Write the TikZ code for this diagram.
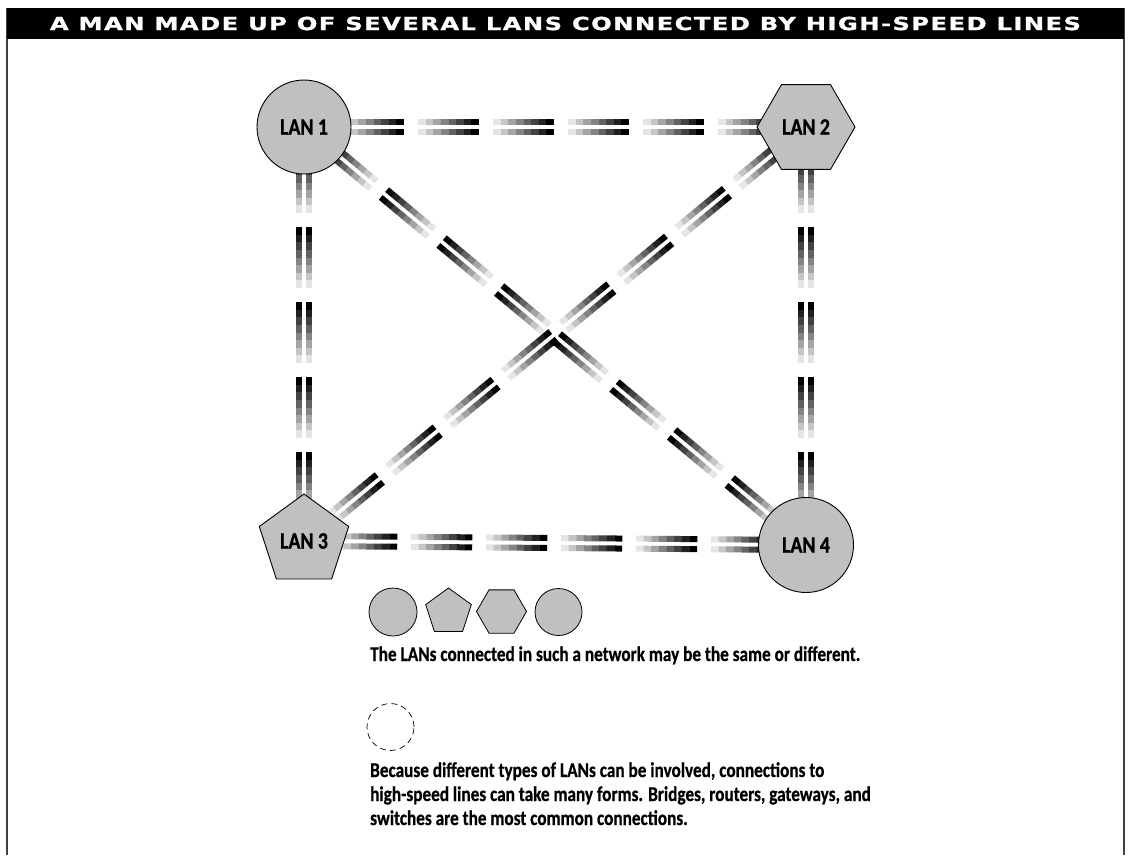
\documentclass[tikz,border=0pt]{standalone}
\usepackage{fontspec}
\setmainfont{Carlito}
\newfontfamily\titlefont[LetterSpace=6,FakeBold=1]{DejaVu Sans}
\newfontfamily\bodyfont[FakeStretch=0.82,FakeBold=0.6]{Carlito}
\newfontfamily\labelfont[FakeStretch=0.84,FakeBold=1]{Carlito}
\usetikzlibrary{shapes.geometric,decorations.markings}
\definecolor{langray}{RGB}{192,192,192}
\pgfdeclarelayer{bg}
\pgfsetlayers{bg,main}
\newcommand\landash{%
  \foreach \i in {0,...,7}{%
    \pgfmathsetmacro\shadev{10+90*\i/7}%
    \fill[black!\shadev] (\i*7.625pt,2pt) rectangle ++(7.9pt,6pt);
    \fill[black!\shadev] (\i*7.625pt,-2pt) rectangle ++(7.9pt,-6pt);
  }}
\tikzset{
  lanshape/.style={draw=black, line width=0.9pt, fill=langray, inner sep=0pt,
    font=\labelfont\fontsize{23.5}{25}\selectfont\bfseries},
  legendshape/.style={draw=black, line width=0.8pt, fill=langray, inner sep=0pt},
  bodytext/.style={inner sep=0pt, anchor=base west, font=\bodyfont\fontsize{21}{24}\selectfont\bfseries},
  titlebar/.style={fill=black, text=white, inner sep=0pt, minimum width=1117pt, minimum height=31pt},
  frameline/.style={draw=black!75, line width=1.5pt},
  lanlink/.style={decoration={markings, mark=between positions #1 and -60pt step 75pt with {\landash}}, decorate},
  conncircle/.style={draw=black, circle, dash pattern=on 6pt off 4pt, line width=0.7pt, inner sep=0pt},
}
\begin{document}
\begin{tikzpicture}[x=1pt,y=-1pt]
\useasboundingbox (0,0) rectangle (1130,855);
\begin{pgfonlayer}{bg}
\fill[white] (0,0) rectangle (1130,855);
\end{pgfonlayer}
% frame
\draw[frameline] (7,8) -- (7,855);
\draw[frameline] (1124,8) -- (1124,855);
\node[titlebar] (title) at (565.5,23.5) {\raisebox{-1pt}{\resizebox{1031pt}{13.4pt}{\titlefont\bfseries A MAN MADE UP OF SEVERAL LANS CONNECTED BY HIGH-SPEED LINES}}};
% LAN nodes
\node[lanshape, circle, minimum size=94pt] (lan1) at (304,127) {LAN 1};
\node[lanshape, regular polygon, regular polygon sides=6, minimum size=98pt] (lan2) at (806,127) {LAN 2};
\node[lanshape, regular polygon, regular polygon sides=5, minimum size=94pt] (lan3) at (304,541) {\raisebox{-3pt}{LAN 3}};
\node[lanshape, circle, minimum size=95pt] (lan4) at (806,545) {\raisebox{-2pt}{LAN 4}};
% high-speed lines
\begin{pgfonlayer}{bg}
\path[lanlink=39pt] (lan1.center) -- (lan2.center);
\path[lanlink=28pt] (lan3.center) -- (lan1.center);
\path[lanlink=32pt] (lan3.center) -- (lan4.center);
\path[lanlink=32pt] (lan4.center) -- (lan2.center);
\path[lanlink=38pt] (lan4.center) -- (lan1.center);
\path[lanlink=37pt] (lan3.center) -- (lan2.center);
\end{pgfonlayer}
% legend
\node[legendshape, circle, minimum size=48pt] (leg1) at (393,612) {};
\node[legendshape, regular polygon, regular polygon sides=5, minimum size=48pt] (leg2) at (448.5,612) {};
\node[legendshape, regular polygon, regular polygon sides=6, minimum size=50pt] (leg3) at (501.5,611.5) {};
\node[legendshape, circle, minimum size=47pt] (leg4) at (558.5,612) {};
\node[bodytext] (same) at (370,661) {The LANs connected in such a network may be the same or different.};
\node[conncircle, minimum size=47pt] (conn) at (390.5,727) {};
\node[bodytext] (para1) at (370,777) {Because different types of LANs can be involved, connections to};
\node[bodytext] (para2) at (370,801) {high-speed lines can take many forms. Bridges, routers, gateways, and};
\node[bodytext] (para3) at (370,825) {switches are the most common connections.};
\end{tikzpicture}
\end{document}
